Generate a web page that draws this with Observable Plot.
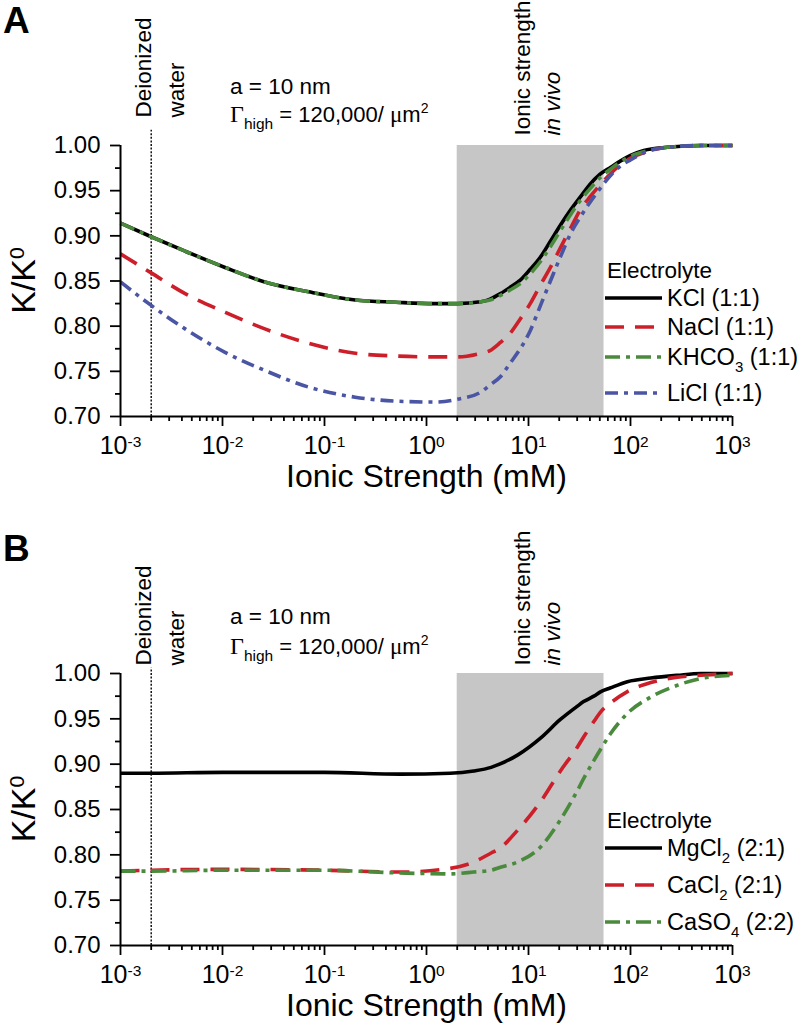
<!DOCTYPE html>
<html>
<head>
<meta charset="utf-8">
<script src="https://cdn.jsdelivr.net/npm/d3@7"></script>
<script src="https://cdn.jsdelivr.net/npm/@observablehq/plot@0.6"></script>
<style>
  html, body { margin: 0; padding: 0; background: #fff; }
  #wrap { position: relative; width: 798px; height: 1027px; overflow: hidden; }
  .panel { position: absolute; left: 0; }
</style>
</head>
<body>
<div id="wrap"></div>
<script>
// ---------- DATA ----------
// Panel A: ionic strength (mM) and K/K0 for 1:1 electrolytes
const ionicA = [0.001, 0.002, 0.0043, 0.0106, 0.026, 0.07, 0.2, 0.5, 1.2, 2, 3.4, 4.2, 5.3, 6.6, 8.3, 10.4, 13, 16.4, 20.6, 26, 32.7, 40, 50, 64, 80, 100, 135, 230, 500, 1000];
const kKCl   = [0.914, 0.899, 0.883, 0.865, 0.849, 0.838, 0.829, 0.8265, 0.825, 0.825, 0.827, 0.830, 0.836, 0.843, 0.851, 0.863, 0.876, 0.894, 0.912, 0.929, 0.944, 0.957, 0.968, 0.976, 0.983, 0.989, 0.9945, 0.998, 1.0, 1.0];
const kNaCl  = [0.880, 0.859, 0.836, 0.8155, 0.797, 0.781, 0.770, 0.767, 0.766, 0.766, 0.770, 0.773, 0.782, 0.792, 0.808, 0.825, 0.845, 0.865, 0.887, 0.909, 0.930, 0.943, 0.956, 0.969, 0.979, 0.986, 0.992, 0.998, 1.0, 1.0];
const kKHCO3 = [0.914, 0.899, 0.883, 0.865, 0.849, 0.838, 0.829, 0.8265, 0.825, 0.825, 0.827, 0.829, 0.834, 0.840, 0.847, 0.858, 0.871, 0.888, 0.906, 0.924, 0.940, 0.952, 0.964, 0.974, 0.982, 0.988, 0.993, 0.998, 1.0, 1.0];
const kLiCl  = [0.849, 0.823, 0.797, 0.771, 0.751, 0.7325, 0.7214, 0.717, 0.716, 0.719, 0.727, 0.735, 0.744, 0.759, 0.775, 0.795, 0.822, 0.850, 0.877, 0.903, 0.922, 0.937, 0.952, 0.967, 0.9775, 0.984, 0.992, 0.998, 1.0, 1.0];

// Panel B: ionic strength (mM) and K/K0 for 2:1 and 2:2 electrolytes
const ionicB = [0.001, 0.002, 0.01, 0.1, 0.55, 1.7, 2.9, 4.3, 5.2, 7.8, 13.2, 20.4, 30.2, 34.7, 43.7, 51.3, 63.1, 93.3, 158, 288, 490, 1000];
const kMgCl2 = [0.890, 0.890, 0.891, 0.891, 0.889, 0.890, 0.8925, 0.8965, 0.900, 0.910, 0.929, 0.949, 0.964, 0.969, 0.975, 0.980, 0.984, 0.991, 0.995, 0.998, 1.0, 1.0];
const kCaCl2 = [0.782, 0.783, 0.784, 0.783, 0.781, 0.785, 0.792, 0.802, 0.807, 0.827, 0.859, 0.892, 0.919, 0.930, 0.947, 0.958, 0.967, 0.980, 0.990, 0.996, 0.998, 1.0];
const kCaSO4 = [0.782, 0.782, 0.783, 0.783, 0.780, 0.779, 0.781, 0.783, 0.786, 0.792, 0.809, 0.838, 0.871, 0.884, 0.904, 0.917, 0.933, 0.956, 0.974, 0.987, 0.9945, 0.998];

// Legend labels: [main, subscript, rest]
const labelsA = [["KCl", "", " (1:1)"], ["NaCl", "", " (1:1)"], ["KHCO", "3", " (1:1)"], ["LiCl", "", " (1:1)"]];
const labelsB = [["MgCl", "2", " (2:1)"], ["CaCl", "2", " (2:1)"], ["CaSO", "4", " (2:2)"]];

// Shaded in-vivo range (mM) and deionized water marker (mM)
const inVivoRange = [[2, 55]];
const deionizedWater = [0.002];

// Ticks
const yMajorTicks = [0.70, 0.75, 0.80, 0.85, 0.90, 0.95, 1.00];
const yMinorTicks = [0.725, 0.775, 0.825, 0.875, 0.925, 0.975];
const xMajorTicks = [1e-3, 1e-2, 1e-1, 1e0, 1e1, 1e2, 1e3];
const xMinorMultipliers = [2, 3, 4, 5, 6, 7, 8, 9];
const xMinorTicks = xMajorTicks.slice(0, -1).flatMap(d => xMinorMultipliers.map(m => d * m));

const xTitle = "Ionic Strength (mM)";
const panelLetters = ["A", "B"];

// ---------- STYLES ----------
const FONT = '"Liberation Sans", Arial, Helvetica, sans-serif';
const SERIF = '"Liberation Serif", "Times New Roman", serif';
const stylesA = [
  {color: "#000000", dash: null},
  {color: "#cc1f2a", dash: "19,11"},
  {color: "#4a8a3c", dash: "15,6,4,6"},
  {color: "#4a55a4", dash: "13,6,4,6"}
];
const stylesB = [
  {color: "#000000", dash: null},
  {color: "#cc1f2a", dash: "19,11"},
  {color: "#4a8a3c", dash: "15,6,4,6"}
];

function makePanel(cfg) {
  const lines = cfg.values.map((vals, i) =>
    Plot.line(cfg.ionic.map((x, j) => ({x, y: vals[j]})), {
      x: "x", y: "y", stroke: cfg.styles[i].color, strokeWidth: 3.6,
      strokeDasharray: cfg.styles[i].dash, curve: "monotone-x", strokeLinecap: "butt"
    }));
  const plot = Plot.plot({
    width: 798, height: cfg.height,
    marginLeft: 120, marginRight: 66, marginTop: cfg.mt, marginBottom: cfg.mb,
    style: {fontFamily: FONT, color: "#000", background: "transparent", overflow: "visible"},
    x: {type: "log", domain: [1e-3, 1e3]},
    y: {domain: [0.70, 1.00]},
    marks: [
      Plot.rect(inVivoRange, {x1: d => d[0], x2: d => d[1], y1: 0.70, y2: 1.00, fill: "#c6c6c6"}),
      Plot.ruleX(deionizedWater, {y1: 0.70, y2: cfg.dotTop, stroke: "#000", strokeWidth: 1.4, strokeDasharray: "2,1.6"}),
      ...lines,
      Plot.axisY(yMajorTicks, {tickSize: 10, tickPadding: 10, tickFormat: d3.format(".2f"), fontSize: 24, strokeWidth: 1.8, label: null}),
      Plot.axisY(yMinorTicks, {tickSize: 5, tickFormat: () => "", strokeWidth: 1.8, label: null}),
      Plot.axisX(xMajorTicks, {tickSize: 10, tickPadding: 10, tickFormat: d => String(Math.round(Math.log10(d))), fontSize: 25, strokeWidth: 1.8, label: null}),
      Plot.axisX(xMinorTicks, {tickSize: 5, tickFormat: () => "", strokeWidth: 1.8, label: null}),
      Plot.ruleX([1e-3], {stroke: "#000", strokeWidth: 2}),
      Plot.ruleY([0.70], {stroke: "#000", strokeWidth: 2}),
      Plot.text([xTitle], {frameAnchor: "bottom", dy: 70, fontSize: 32}),
      Plot.text(["Deionized"], {x: () => deionizedWater[0], frameAnchor: "top", dx: -16, dy: -cfg.dwGap, rotate: -90, textAnchor: "start", fontSize: 22.5}),
      Plot.text(["water"], {x: () => deionizedWater[0], frameAnchor: "top", dx: 17, dy: -cfg.dwGap, rotate: -90, textAnchor: "start", fontSize: 22.5}),
      Plot.text(["Ionic strength"], {x: () => Math.sqrt(inVivoRange[0][0] * inVivoRange[0][1]), frameAnchor: "top", dx: -17, dy: -cfg.isGap, rotate: -90, textAnchor: "start", fontSize: 22.5}),
      Plot.text(["in vivo"], {x: () => Math.sqrt(inVivoRange[0][0] * inVivoRange[0][1]), frameAnchor: "top", dx: 13, dy: -cfg.isGap, rotate: -90, textAnchor: "start", fontSize: 22.5, fontStyle: "italic"})
    ]
  });

  const svg = d3.select(plot);
  // x tick labels as 10^n
  svg.selectAll('[aria-label="x-axis tick label"] text').each(function () {
    const t = d3.select(this);
    const e = t.text();
    if (!e) return;
    t.text("");
    t.append("tspan").text("10");
    t.append("tspan").attr("dy", "-0.48em").attr("font-size", "0.62em").text(e);
  });

  const ann = svg.append("g").attr("text-anchor", "start").attr("font-family", FONT).attr("fill", "#000");

  // y axis title K/K0
  const midY = (cfg.mt + (cfg.height - cfg.mb)) / 2;
  const yl = ann.append("text").attr("transform", `translate(35,${midY}) rotate(-90)`)
    .attr("text-anchor", "middle").attr("font-size", 34);
  yl.append("tspan").text("K/K");
  yl.append("tspan").attr("dy", "-0.5em").attr("font-size", "0.62em").text("0");

  // panel letter
  ann.append("text").attr("x", 3).attr("y", cfg.letterY).attr("font-size", 37).attr("font-weight", "bold").text(cfg.letter);

  // parameter annotation
  ann.append("text").attr("x", 230).attr("y", cfg.aY).attr("font-size", 22.5).text("a = 10 nm");
  const g = ann.append("text").attr("x", 230).attr("y", cfg.gY).attr("font-size", 22);
  g.append("tspan").attr("font-family", SERIF).attr("font-size", 24).text("\u0393");
  g.append("tspan").attr("dy", 7).attr("font-size", 15.5).text("high");
  g.append("tspan").attr("dy", -7).text(" = 120,000/ ");
  g.append("tspan").attr("font-family", SERIF).attr("font-size", 23).text("\u03bc");
  g.append("tspan").text("m");
  g.append("tspan").attr("dy", -9).attr("font-size", 14).text("2");

  // legend
  ann.append("text").attr("x", 607).attr("y", cfg.legTitleY).attr("font-size", 22.5).text("Electrolyte");
  cfg.labels.forEach((lab, i) => {
    const y = cfg.legRows[i];
    const st = cfg.styles[i];
    ann.append("line").attr("x1", 605).attr("x2", 662).attr("y1", y).attr("y2", y)
      .attr("stroke", st.color).attr("stroke-width", 3.6).attr("stroke-dasharray", st.dash);
    const t = ann.append("text").attr("x", 667).attr("y", y + 8).attr("font-size", 23.5);
    t.append("tspan").text(lab[0]);
    if (lab[1]) {
      t.append("tspan").attr("dy", 7).attr("font-size", 15).text(lab[1]);
      t.append("tspan").attr("dy", -7).text(lab[2]);
    } else {
      t.append("tspan").text(lab[2]);
    }
  });

  return plot;
}

const wrap = document.getElementById("wrap");

const pA = makePanel({
  ionic: ionicA, values: [kKCl, kNaCl, kKHCO3, kLiCl], styles: stylesA, labels: labelsA,
  height: 513, mt: 145, mb: 97, dotTop: 1.017, dwGap: 28, isGap: 10,
  letter: panelLetters[0], letterY: 33, aY: 94, gY: 122,
  legTitleY: 278, legRows: [298, 327, 357, 393]
});
pA.classList.add("panel"); pA.style.top = "0px";
wrap.appendChild(pA);

const pB = makePanel({
  ionic: ionicB, values: [kMgCl2, kCaCl2, kCaSO4], styles: stylesB, labels: labelsB,
  height: 514, mt: 160, mb: 82, dotTop: 1.006, dwGap: 8, isGap: 8,
  letter: panelLetters[1], letterY: 48, aY: 111, gY: 141,
  legTitleY: 315, legRows: [335, 372, 409]
});
pB.classList.add("panel"); pB.style.top = "513px";
wrap.appendChild(pB);
</script>
</body>
</html>
